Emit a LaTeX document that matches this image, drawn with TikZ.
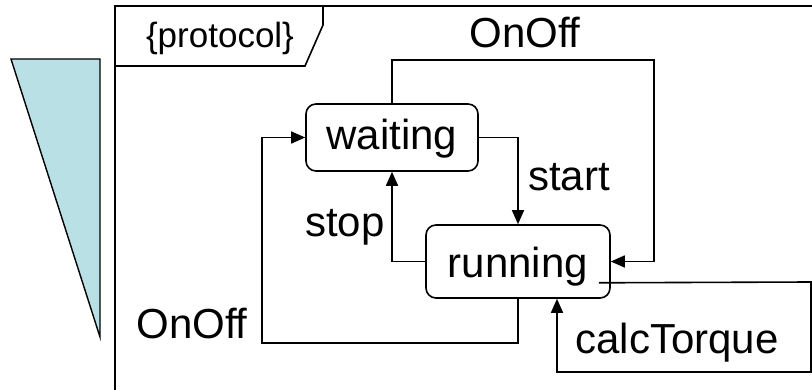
\documentclass[tikz,border=0pt]{standalone}
\usepackage{fontspec}
\setmainfont{Liberation Sans}
\usetikzlibrary{arrows.meta,calc}
\definecolor{wedgefill}{RGB}{185,224,228}
\begin{document}
\begin{tikzpicture}[x=1pt,y=-1pt,
  line width=1.6pt,
  lbl/.style={font=\fontsize{42}{48}\selectfont, inner sep=0pt, anchor=base},
  state/.style={draw, rounded corners=10pt, inner sep=0pt,
    font=\fontsize{42}{48}\selectfont},
  arr/.style={-{Triangle[length=14pt,width=12pt]}}]
\useasboundingbox (0,0) rectangle (812,390);

% decorative wedge on the left
\draw[fill=wedgefill, line width=1.4pt] (11,59) -- (100,59) -- (100,337) -- cycle;

% frame with its name tab
\draw (115,395) -- (115,6) -- (820,6);
\draw (115,66) -- (305,66) -- (323,25) -- (323,6);
\node[lbl, font=\fontsize{35}{40}\selectfont] (proto) at (220,48) {\{protocol\}};

% states
\node[state, minimum width=172pt, minimum height=67pt,
      text height=30pt, text depth=5pt] (waiting) at (392,137.5) {waiting};
\node[state, minimum width=184pt, minimum height=73pt,
      text height=35pt, text depth=2pt] (running) at (518,261.5) {running};

% transitions
\draw[arr] (waiting.north) -- (392,60) -| (654,160) |- (running.east);
\draw[arr] (waiting.east) -| (running.north);
\draw[arr] (running.west) -| (waiting.south);
\draw[arr] (running.south) |- (262,343) |- (waiting.west);
\coordinate (ct) at ($(running.south east)+(-12,-16)$);
\draw[arr] (ct) -- (811,282) -- (811,372) -| ($(running.south)+(39,0)$);

% transition labels
\node[lbl] (l1) at (525,48) {OnOff};
\node[lbl] (l2) at (569,191) {start};
\node[lbl] (l3) at (345,237) {stop};
\node[lbl] (l4) at (192,338) {OnOff};
\node[lbl] (l5) at (677,353) {calcTorque};
\end{tikzpicture}
\end{document}
